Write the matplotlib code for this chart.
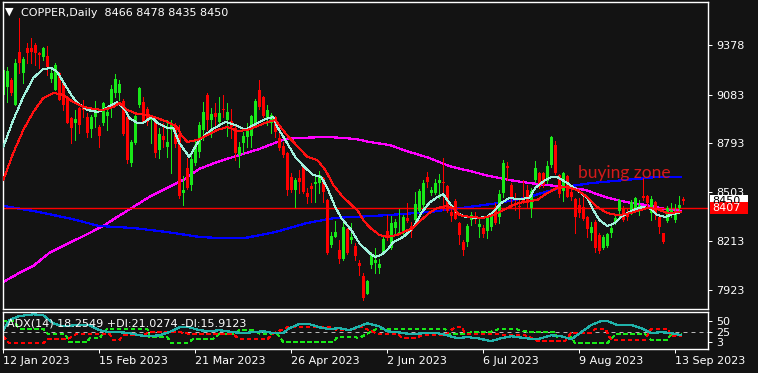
import matplotlib
matplotlib.use('Agg')
import matplotlib.pyplot as plt
import matplotlib.transforms as mtransforms
from matplotlib.patches import Rectangle
import numpy as np

# ---- candle data (one entry per daily bar, 12 Jan 2023 .. 15 Sep 2023) ----
opens = [9081, 9131, 9170, 9022, 9338, 9214, 9358, 9358, 9378, 9333,
         9309, 9313, 9174, 9111, 9210, 9150, 9067, 8943, 8913, 9002,
         9012, 8948, 8877, 8948, 8889, 8913, 8956, 9012, 9091, 9091,
         9047, 8952, 8675, 8798, 9022, 9042, 8996, 8933, 8933, 8754,
         8838, 8774, 8873, 8903, 8850, 8501, 8645, 8546, 8679, 8744,
         8873, 9081, 8933, 8976, 8923, 8996, 8933, 8927, 8883, 8725,
         8798, 8834, 8838, 8903, 9111, 9067, 8946, 8913, 8952, 8824,
         8778, 8735, 8596, 8517, 8586, 8665, 8497, 8541, 8552, 8556,
         8586, 8457, 8190, 8240, 8160, 8105, 8283, 8220, 8186, 8085,
         8006, 7899, 8071, 8081, 8051, 8150, 8273, 8170, 8289, 8263,
         8259, 8352, 8303, 8338, 8392, 8427, 8592, 8497, 8501, 8556,
         8566, 8540, 8388, 8451, 8318, 8209, 8209, 8338, 8362, 8295,
         8289, 8275, 8295, 8413, 8358, 8501, 8659, 8546, 8467, 8421,
         8467, 8516, 8408, 8577, 8620, 8620, 8573, 8666, 8785, 8606,
         8513, 8600, 8507, 8462, 8428, 8414, 8355, 8260, 8329, 8250,
         8171, 8185, 8264, 8319, 8394, 8408, 8379, 8398, 8402, 8414,
         8482, 8482, 8379, 8446, 8359, 8260, 8335, 8369, 8339, 8408,
         8466]
highs = [9240, 9249, 9180, 9293, 9536, 9309, 9388, 9418, 9388, 9338,
         9364, 9372, 9240, 9273, 9220, 9160, 9075, 8952, 8992, 9012,
         9051, 8972, 8962, 9047, 8903, 9042, 9012, 9140, 9206, 9170,
         9055, 8962, 8814, 8972, 9131, 9071, 9012, 8962, 8943, 8883,
         8913, 8933, 8933, 8913, 8903, 8600, 8705, 8725, 8814, 8923,
         9042, 9091, 9002, 9032, 9071, 9081, 9032, 8996, 8903, 8804,
         8863, 8913, 8962, 9055, 9170, 9075, 9022, 8972, 8956, 8869,
         8804, 8744, 8620, 8586, 8636, 8671, 8527, 8560, 8606, 8630,
         8592, 8461, 8269, 8334, 8220, 8339, 8289, 8319, 8200, 8101,
         8022, 7982, 8150, 8170, 8105, 8249, 8368, 8362, 8342, 8402,
         8368, 8437, 8328, 8507, 8520, 8576, 8625, 8532, 8580, 8611,
         8705, 8546, 8421, 8461, 8328, 8220, 8314, 8388, 8388, 8348,
         8309, 8368, 8378, 8437, 8516, 8695, 8685, 8556, 8497, 8457,
         8576, 8546, 8527, 8691, 8626, 8626, 8686, 8838, 8810, 8612,
         8626, 8606, 8527, 8468, 8468, 8493, 8363, 8329, 8339, 8260,
         8250, 8260, 8303, 8363, 8462, 8422, 8402, 8458, 8478, 8458,
         8587, 8488, 8482, 8452, 8369, 8264, 8422, 8438, 8434, 8482,
         8478]
lows = [9070, 9042, 9081, 9020, 9210, 9154, 9269, 9269, 9259, 9240,
        9289, 9200, 9160, 9111, 9051, 8992, 8913, 8794, 8814, 8853,
        8952, 8834, 8834, 8893, 8774, 8903, 8873, 8952, 9071, 9051,
        8843, 8675, 8659, 8790, 9012, 8913, 8903, 8798, 8715, 8705,
        8774, 8715, 8620, 8774, 8470, 8428, 8521, 8517, 8665, 8715,
        8814, 8873, 8830, 8873, 8903, 8952, 8838, 8824, 8695, 8651,
        8739, 8774, 8770, 8893, 8996, 8948, 8903, 8857, 8834, 8754,
        8715, 8487, 8507, 8414, 8497, 8497, 8442, 8448, 8448, 8497,
        8448, 8137, 8180, 8236, 8081, 8101, 8135, 8200, 8101, 8012,
        7863, 7897, 8051, 8022, 8022, 8140, 8219, 8164, 8249, 8259,
        8249, 8328, 8239, 8322, 8388, 8417, 8536, 8487, 8493, 8467,
        8398, 8388, 8334, 8342, 8196, 8130, 8184, 8309, 8322, 8235,
        8235, 8229, 8279, 8314, 8322, 8477, 8576, 8417, 8398, 8348,
        8437, 8417, 8359, 8567, 8527, 8537, 8557, 8656, 8612, 8478,
        8454, 8474, 8458, 8260, 8359, 8339, 8240, 8220, 8151, 8141,
        8165, 8177, 8240, 8315, 8359, 8335, 8339, 8375, 8388, 8369,
        8458, 8408, 8339, 8343, 8260, 8200, 8329, 8359, 8329, 8388,
        8435]
closes = [9230, 9224, 9091, 9269, 9269, 9293, 9329, 9338, 9329, 9319,
          9358, 9249, 9214, 9259, 9051, 9022, 8913, 8883, 8937, 8903,
          8992, 8853, 8952, 9002, 8838, 9032, 8982, 9115, 9174, 9146,
          8849, 8695, 8804, 8956, 9121, 8919, 8923, 8956, 8739, 8850,
          8814, 8800, 8913, 8790, 8480, 8517, 8527, 8701, 8784, 8903,
          8982, 8933, 8966, 8952, 8972, 8990, 8982, 8893, 8739, 8774,
          8838, 8873, 8956, 9045, 9012, 8956, 8992, 8962, 8863, 8764,
          8725, 8517, 8517, 8576, 8566, 8507, 8473, 8521, 8566, 8606,
          8507, 8141, 8244, 8269, 8105, 8299, 8141, 8240, 8126, 8067,
          7873, 7976, 8130, 8101, 8077, 8223, 8229, 8318, 8328, 8269,
          8358, 8332, 8273, 8433, 8512, 8556, 8566, 8516, 8560, 8576,
          8560, 8394, 8362, 8346, 8249, 8160, 8303, 8368, 8348, 8314,
          8253, 8354, 8368, 8318, 8491, 8679, 8649, 8467, 8457, 8417,
          8447, 8437, 8511, 8646, 8537, 8545, 8660, 8834, 8616, 8493,
          8620, 8478, 8478, 8359, 8383, 8343, 8284, 8295, 8171, 8155,
          8236, 8256, 8289, 8349, 8458, 8339, 8359, 8448, 8468, 8428,
          8468, 8438, 8462, 8375, 8299, 8210, 8408, 8398, 8383, 8428,
          8450]

# ---- moving averages (bar position, price) ----
ma_fast_bar = [0, 2.5, 5, 7.5, 10, 12, 13.5, 15, 17, 18.5, 21, 23.5, 25, 27, 28.5,
               30.5, 31.5, 33.5, 35, 37, 38.5, 41, 42.5, 44, 46.5, 49, 52, 55.5, 58,
               60.5, 63, 65.5, 67.5, 68.5, 70.5, 73, 75.5, 77.5, 79.5, 81, 83, 84.5,
               87, 89, 91.5, 93, 94.5, 96, 97.5, 100, 102.5, 104.5, 106.5, 108.5,
               110, 111, 113.5, 115.5, 118.5, 121, 122.5, 124.5, 126.5, 129, 131.5,
               133, 135.5, 137, 138.5, 141, 143.5, 146, 147.5, 149, 151, 153, 154.5,
               156, 158, 160, 162, 163.5, 165.5, 167.5, 169.5]
ma_fast = [8772, 8933, 9069, 9182, 9235, 9241, 9218, 9158, 9081, 9034, 8992, 8980,
           8992, 9022, 9039, 8992, 8944, 8915, 8915, 8950, 8915, 8885, 8885, 8796,
           8713, 8814, 8873, 8921, 8903, 8873, 8909, 8938, 8950, 8891, 8814, 8713,
           8648, 8606, 8594, 8529, 8416, 8351, 8279, 8202, 8143, 8119, 8131, 8161,
           8208, 8238, 8291, 8380, 8440, 8475, 8493, 8457, 8380, 8357, 8351, 8357,
           8386, 8440, 8469, 8463, 8469, 8529, 8576, 8594, 8594, 8558, 8517, 8469,
           8398, 8339, 8303, 8321, 8357, 8380, 8404, 8416, 8404, 8368, 8357, 8374,
           8386]
ma_mid_bar = [0, 2.5, 5, 7.5, 10, 12.5, 15, 17.5, 20, 22.5, 25, 27.5, 29, 31, 33.5,
              36, 38.5, 41, 43.5, 44.5, 46, 48.5, 51, 53.5, 56, 58.5, 61, 63, 65.5,
              68, 69.5, 71.5, 74, 76, 78.5, 80.5, 82.5, 84.5, 87, 88.5, 90, 91.5, 94,
              96, 98.5, 100, 102.5, 104.5, 106.5, 108.5, 111, 112.5, 114, 116.5, 120,
              122.5, 125, 127.5, 130, 133.5, 136, 138.5, 141, 143.5, 146, 148.5, 151,
              153.5, 156, 158.5, 161, 163.5, 166, 169.5]
ma_mid = [8576, 8737, 8873, 8980, 9063, 9093, 9081, 9039, 9010, 8998, 8992, 9010,
          9034, 8992, 8968, 8962, 8944, 8921, 8891, 8843, 8802, 8814, 8843, 8873,
          8891, 8867, 8873, 8891, 8915, 8933, 8885, 8826, 8766, 8713, 8695, 8636,
          8547, 8487, 8428, 8398, 8339, 8297, 8250, 8238, 8250, 8267, 8291, 8339,
          8380, 8410, 8422, 8410, 8368, 8357, 8351, 8368, 8398, 8428, 8446, 8457,
          8499, 8529, 8535, 8517, 8475, 8416, 8380, 8368, 8374, 8392, 8410, 8404,
          8380, 8386]
ma_slow_bar = [0, 4, 7.5, 11.5, 16, 21, 25, 28.5, 32.5, 36.5, 41, 45, 49, 53.5, 57.5,
               64, 70.5, 74.5, 81, 88, 91.5, 96.5, 101.5, 106.5, 111.5, 116.5, 121.5,
               126.5, 131.5, 135.5, 140.5, 145.5, 150.5, 155.5, 160.5, 165.5, 169.5]
ma_slow = [7971, 8024, 8066, 8143, 8196, 8255, 8303, 8357, 8416, 8475, 8529, 8576,
           8642, 8683, 8713, 8760, 8820, 8826, 8832, 8820, 8802, 8784, 8743, 8707,
           8659, 8630, 8600, 8576, 8558, 8547, 8535, 8517, 8475, 8446, 8428, 8404,
           8392]
ma_long_bar = [0, 7.5, 16, 24, 32.5, 41, 49, 53.5, 60.5, 68, 76, 83, 88, 96.5, 106.5,
               116.5, 124, 131.5, 135.5, 140.5, 147, 155.5, 163.5, 169.5]
ma_long = [8422, 8392, 8351, 8303, 8291, 8267, 8238, 8232, 8232, 8267, 8321, 8351,
           8357, 8368, 8386, 8416, 8440, 8475, 8505, 8535, 8558, 8576, 8594, 8594]

level_line = 8407
last_price = 8450
price_ticks = [9378, 9083, 8793, 8503, 8213, 7923]

# ---- ADX(14) ----
adx_bar = [0, 1.5, 4, 7.5, 10, 12.5, 15, 18.5, 21.5, 24, 26.5, 29, 31.5, 34, 36.5,
           39, 41.5, 44, 46.5, 49, 51.5, 54, 57.5, 60, 62.5, 65, 67.5, 70, 71.5, 74,
           76.5, 79, 81.5, 84, 86.5, 89, 91, 94, 96, 98.5, 102, 105.5, 108.5, 111,
           113.5, 116, 118.5, 122, 124.5, 127, 130.5, 133.5, 137, 139.5, 142, 144.5,
           147, 149.5, 151, 153.5, 157, 159.5, 162, 164.5, 167, 169.5]
adx = [29.5, 52, 61, 65, 63, 45, 38, 41, 41, 29.5, 25, 25, 23, 18, 16, 18, 25, 36,
       36, 29.5, 27, 29.5, 25, 23, 25, 27, 23, 23, 34, 43, 43, 36, 32, 34, 29.5, 38,
       45, 38, 27, 25, 20.5, 23, 23, 18, 11.5, 14, 11.5, 5, 11.5, 16, 11.5, 9, 18,
       16, 9, 25, 41, 50, 50, 41, 41, 34, 23, 25, 23, 18.25]
pdi_bar = [0, 2.5, 4, 10, 11, 15.5, 16.5, 21, 21.5, 24, 26, 36, 36.5, 41, 42, 46,
           47.5, 52.5, 54, 57.5, 59, 62.5, 64, 68.5, 70, 82.5, 83.5, 87.5, 89, 93.5,
           98.5, 110.5, 111, 115.5, 118, 122, 123.5, 128.5, 131, 138, 138.5, 142,
           143, 151, 153, 160.5, 162, 166, 167, 169.5]
pdi = [50, 50, 33, 33, 22, 22, 2, 2, 11, 11, 33, 33, 14, 14, 0, 0, 10, 10, 22, 22,
       29, 29, 22, 22, 3, 3, 14, 14, 12, 33, 33, 33, 22, 22, 26, 26, 31, 31, 26, 26,
       14, 14, 0, 0, 20, 20, 7, 7, 21, 21.03]
mdi_bar = [0, 1.5, 10, 11, 16, 18.5, 26.5, 27.5, 29, 30, 35, 36.5, 43.5, 46, 49, 51,
           57.5, 59, 66, 67.5, 71, 82.5, 83.5, 87.5, 88.5, 93.5, 98.5, 99.5, 103.5,
           104.5, 110.5, 113, 114.5, 115.5, 123, 125.5, 130.5, 133.5, 140.5, 142,
           147, 148, 150.5, 152, 160.5, 162, 166, 167, 169.5]
mdi = [15, 0, 0, 9, 9, 22, 22, 7, 7, 18, 18, 26, 26, 22, 22, 20, 20, 9, 9, 22, 36,
       36, 29, 29, 40, 22, 22, 13, 13, 18, 18, 37, 37, 22, 22, 18, 18, 6, 6, 24, 24,
       33, 33, 7, 7, 33, 33, 16, 15.91]
adx_ticks = [50, 25, 3]

date_pos = [0, 24, 48, 72, 96, 120, 144, 168]
date_labels = ['12 Jan 2023', '15 Feb 2023', '21 Mar 2023', '26 Apr 2023',
               '2 Jun 2023', '6 Jul 2023', '9 Aug 2023', '13 Sep 2023']

# ---- figure ----
W, H = 758, 373
BG = '#131313'
PX = 0.72  # one pixel in points at 100 dpi
plt.rcParams['font.family'] = 'DejaVu Sans'

fig = plt.figure(figsize=(W / 100, H / 100), dpi=100, facecolor=BG)
ax = fig.add_axes([2.5 / W, 1 - 309 / H, 705.5 / W, 307 / H])
ax2 = fig.add_axes([2.5 / W, 1 - 349 / H, 705.5 / W, 37 / H])

for a in (ax, ax2):
    a.set_facecolor(BG)
    for s in a.spines.values():
        s.set_color('white')
        s.set_linewidth(1.4 * PX)
    a.set_xlim(-0.2, 176.2)
    a.yaxis.tick_right()
    a.tick_params(axis='y', colors='white', labelcolor='white', length=3,
                  width=PX, pad=3, labelsize=8)

o = np.array(opens, float)
hi = np.array(highs, float)
lo = np.array(lows, float)
c = np.array(closes, float)
idx = np.arange(len(c))
col = np.where(c >= o, '#18E818', '#FF0000')

ax.plot(ma_slow_bar, ma_slow, color='#FF00FF', lw=1.2 * PX, antialiased=False, zorder=1)
ax.plot(ma_long_bar, ma_long, color='#0000FF', lw=1.2 * PX, antialiased=False, zorder=1)
ax.axhline(level_line, color='#FF0000', lw=1.4 * PX, zorder=1)

ax.vlines(idx, lo, hi, colors=col, lw=PX, antialiased=False, zorder=2)
ax.bar(idx, np.maximum(np.abs(c - o), 6), bottom=np.minimum(o, c), width=0.75,
       color=col, lw=0, antialiased=False, zorder=2)

ax.plot(ma_fast_bar, ma_fast, color='#A0F0DC', lw=PX, antialiased=False, zorder=3)
ax.plot(ma_mid_bar, ma_mid, color='#FF1010', lw=PX, antialiased=False, zorder=3)

ax.set_ylim(7810, 9633)
ax.set_yticks(price_ticks)
ax.set_xticks([])

ax.text(143.7, 8588, 'buying zone', color='#D41A1A', fontsize=12.5,
        family='Lato', va='baseline', zorder=4)

# price boxes on the right scale
tr = mtransforms.blended_transform_factory(ax.transAxes, ax.transData)
half = 6 * 5.939
for price, fc, tc in [(last_price, 'white', 'black'), (level_line, '#FF0000', 'white')]:
    ax.add_patch(Rectangle((1.0025, price - half), 0.0539, 2 * half, transform=tr,
                           fc=fc, ec='none', clip_on=False, zorder=5))
    ax.text(1.0055, price, str(price), transform=tr, color=tc, fontsize=8,
            va='center', ha='left', clip_on=False, zorder=6)

# ---- ADX panel ----
ax2.axhline(25, color='#B8B8B8', lw=PX, ls=(0, (4, 4)))
ax2.plot(pdi_bar, pdi, color='#18E818', lw=PX, ls=(0, (4, 4)), antialiased=False)
ax2.plot(mdi_bar, mdi, color='#FF0000', lw=PX, ls=(0, (4, 4)), antialiased=False)
ax2.plot(adx_bar, adx, color='#20B2AA', lw=1.2 * PX, antialiased=False)
ax2.set_ylim(-12.7, 70.2)
ax2.set_yticks(adx_ticks)
ax2.set_xticks(date_pos)
ax2.set_xticklabels(date_labels, ha='left')
ax2.tick_params(axis='x', colors='white', labelcolor='white', length=3, width=PX,
                pad=2, labelsize=8)
ax2.text(4.5 / 705.5, 0.70, 'ADX(14) 18.2549 +DI:21.0274 -DI:15.9123',
         transform=ax2.transAxes, color='white', fontsize=8, va='center')

fig.text(5 / W, 1 - 12 / H, '\u25bc', color='white', fontsize=8, va='center')
fig.text(21 / W, 1 - 12.5 / H, 'COPPER,Daily  8466 8478 8435 8450', color='white',
         fontsize=8, va='center')

fig.savefig('out.png', dpi=100, facecolor=BG)
